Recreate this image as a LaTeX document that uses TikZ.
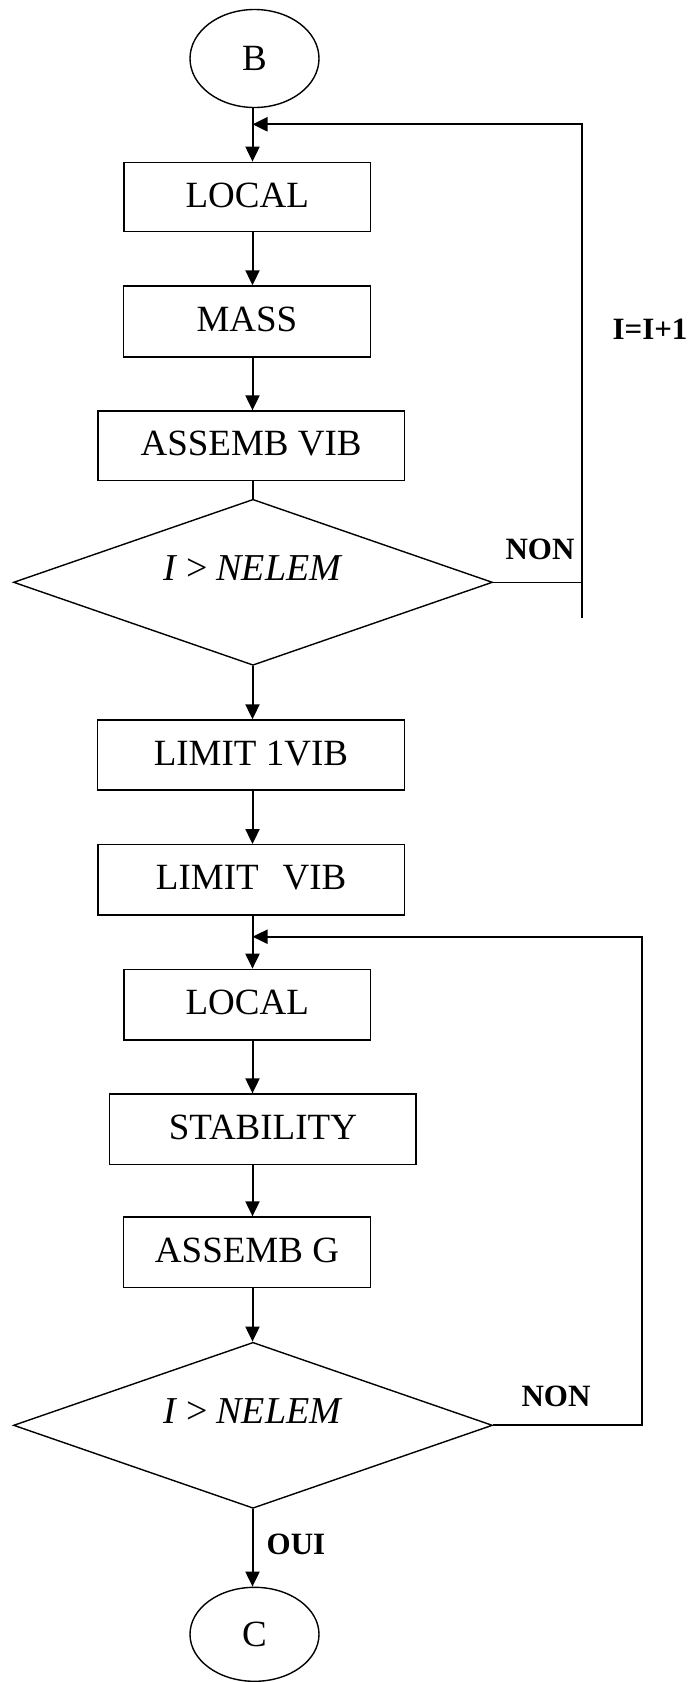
\documentclass[tikz,border=0pt]{standalone}
\usepackage{fontspec}
\setmainfont{Liberation Serif}
\usetikzlibrary{shapes.geometric,arrows.meta}
\begin{document}
\begin{tikzpicture}[x=1pt,y=-1pt,
  box/.style={draw, line width=1.4pt, rectangle, inner sep=0pt,
    font=\fontsize{37}{40}\selectfont, text height=25pt, text depth=5pt},
  term/.style={draw, line width=1.4pt, ellipse, inner sep=0pt,
    minimum width=129pt, font=\fontsize{37}{40}\selectfont},
  test/.style={draw, line width=1.4pt, diamond, inner sep=0pt,
    minimum width=479pt, minimum height=166pt},
  cond/.style={font=\fontsize{38}{40}\selectfont},
  tag/.style={font=\fontsize{31}{34}\selectfont\bfseries},
  flow/.style={line width=2pt, -{Triangle[length=15pt,width=14pt]}},
  link/.style={line width=2pt}
]
\useasboundingbox (0,0) rectangle (692,1682);

% main vertical axis and the two loop-back columns
\coordinate (ax) at (252.5,0);
\coordinate (r1low) at (582,618.3);
\coordinate (r1top) at (582,124.3);
\coordinate (r2) at (642.4,936.7);

% first loop: element matrices
\node[term, minimum height=98pt] (B) at (254.5,58.5) {B};
\node[box, minimum width=246.4pt, minimum height=69.4pt] (loc1) at (247.2,197) {LOCAL};
\node[box, minimum width=246.7pt, minimum height=71pt] (mass) at (246.9,321.5) {MASS};
\node[box, minimum width=306.2pt, minimum height=69.7pt] (asv) at (251.1,445.9) {ASSEMB VIB};
\node[test] (dec1) at (253,582.3) {};
\node[cond] (dec1t) at (253,568) {\textit{I}\hspace{9pt}>\hspace{9pt}\textit{NELEM}};

% boundary conditions
\node[box, minimum width=306.8pt, minimum height=70pt] (lim1) at (250.9,755) {LIMIT 1VIB};
\node[box, minimum width=306.4pt, minimum height=70.3pt] (lim) at (251.2,879.9) {LIMIT\hspace{24pt}VIB};

% second loop: stability matrices
\node[box, minimum width=246.4pt, minimum height=70.7pt] (loc2) at (247.2,1004.7) {LOCAL};
\node[box, minimum width=306.3pt, minimum height=70.3pt] (stab) at (262.9,1129.2) {STABILITY};
\node[box, minimum width=246.6pt, minimum height=70.3pt] (asg) at (247,1252.2) {ASSEMB G};
\node[test] (dec2) at (253,1425.3) {};
\node[cond] (dec2t) at (253,1411.5) {\textit{I}\hspace{9pt}>\hspace{9pt}\textit{NELEM}};
\node[term, minimum height=94pt] (C) at (254.5,1634.3) {C};

% labels
\node[tag] (non1) at (540,549) {NON};
\node[tag] (incr) at (650,329) {I=I+1};
\node[tag] (non2) at (556,1396.5) {NON};
\node[tag] (oui) at (296,1544) {OUI};

% straight-down connectors
\draw[flow] (B.south -| ax) -- (loc1.north -| ax);
\draw[flow] (loc1.south -| ax) -- (mass.north -| ax);
\draw[flow] (mass.south -| ax) -- (asv.north -| ax);
\draw[link] (asv.south -| ax) -- (dec1.north -| ax);
\draw[flow] (dec1.south -| ax) -- (lim1.north -| ax);
\draw[flow] (lim1.south -| ax) -- (lim.north -| ax);
\draw[flow] (lim.south -| ax) -- (loc2.north -| ax);
\draw[flow] (loc2.south -| ax) -- (stab.north -| ax);
\draw[flow] (stab.south -| ax) -- (asg.north -| ax);
\draw[flow] (asg.south -| ax) -- (dec2.north -| ax);
\draw[flow] (dec2.south -| ax) -- (C.north -| ax);

% loop-backs
\draw[link, line width=1.6pt] (dec1.east) -- (dec1.east -| r1low);
\draw[flow, line width=2.2pt] (r1low) -- (r1top) -- (r1top -| ax);
\draw[flow] (dec2.east) -- (dec2.east -| r2) -- (r2) -- (r2 -| ax);
\end{tikzpicture}
\end{document}
